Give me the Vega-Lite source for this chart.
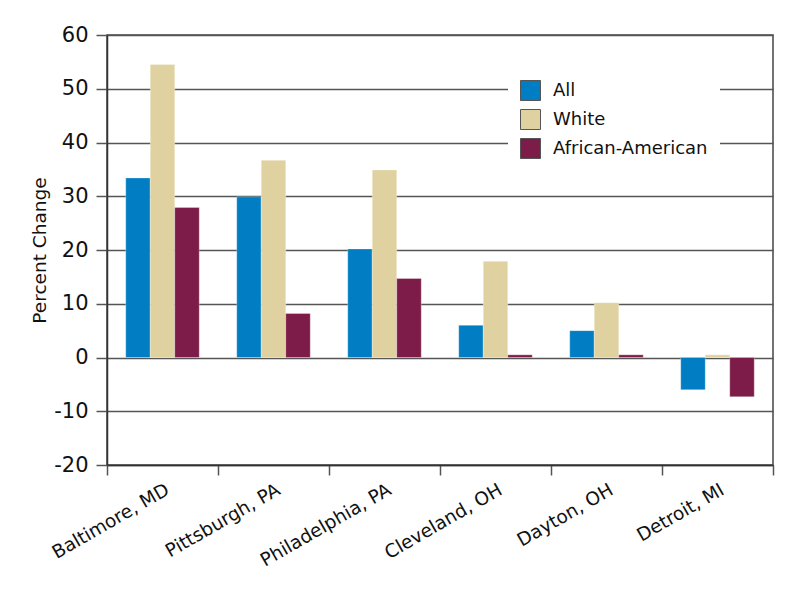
{
  "$schema": "https://vega.github.io/schema/vega-lite/v6.json",
  "autosize": "none",
  "width": 666,
  "height": 430,
  "padding": {"left": 107, "top": 35, "right": 31, "bottom": 127},
  "background": "white",
  "config": {
    "font": "DejaVu Sans",
    "view": {"stroke": "#444444", "strokeWidth": 1.5}
  },
  "data": {
    "values": [
      {"city": "Baltimore, MD", "group": "All", "value": 33.4},
      {"city": "Baltimore, MD", "group": "White", "value": 54.5},
      {"city": "Baltimore, MD", "group": "African-American", "value": 27.9},
      {"city": "Pittsburgh, PA", "group": "All", "value": 29.9},
      {"city": "Pittsburgh, PA", "group": "White", "value": 36.7},
      {"city": "Pittsburgh, PA", "group": "African-American", "value": 8.2},
      {"city": "Philadelphia, PA", "group": "All", "value": 20.2},
      {"city": "Philadelphia, PA", "group": "White", "value": 34.9},
      {"city": "Philadelphia, PA", "group": "African-American", "value": 14.7},
      {"city": "Cleveland, OH", "group": "All", "value": 6.0},
      {"city": "Cleveland, OH", "group": "White", "value": 17.9},
      {"city": "Cleveland, OH", "group": "African-American", "value": 0.5},
      {"city": "Dayton, OH", "group": "All", "value": 5.0},
      {"city": "Dayton, OH", "group": "White", "value": 10.2},
      {"city": "Dayton, OH", "group": "African-American", "value": 0.5},
      {"city": "Detroit, MI", "group": "All", "value": -6.0},
      {"city": "Detroit, MI", "group": "White", "value": 0.5},
      {"city": "Detroit, MI", "group": "African-American", "value": -7.3}
    ]
  },
  "mark": {"type": "bar", "stroke": "white", "strokeWidth": 0.5, "strokeOpacity": 0.6},
  "encoding": {
    "x": {
      "field": "city",
      "type": "nominal",
      "sort": null,
      "scale": {"paddingInner": 0, "paddingOuter": 0},
      "axis": {
        "title": null,
        "labelAngle": -30,
        "labelAlign": "right",
        "labelBaseline": "top",
        "labelFontSize": 18.5,
        "labelColor": "#111111",
        "labelPadding": 5,
        "tickBand": "extent",
        "tickSize": 10,
        "tickColor": "#555555",
        "tickWidth": 1.5,
        "domainColor": "#333333",
        "domainWidth": 1.5,
        "grid": false
      }
    },
    "xOffset": {
      "field": "group",
      "type": "nominal",
      "sort": ["All", "White", "African-American"],
      "scale": {"paddingInner": 0, "paddingOuter": 0.765}
    },
    "y": {
      "field": "value",
      "type": "quantitative",
      "scale": {"domain": [-20, 60], "nice": false},
      "axis": {
        "title": "Percent Change",
        "titleFontSize": 18.5,
        "titleFontWeight": "normal",
        "titleColor": "#111111",
        "titlePadding": 4,
        "values": [-20, -10, 0, 10, 20, 30, 40, 50, 60],
        "labelExpr": "'' + datum.value",
        "labelFontSize": 21,
        "labelColor": "#111111",
        "labelPadding": 8,
        "tickSize": 11,
        "tickColor": "#555555",
        "tickWidth": 1.5,
        "gridColor": "#555555",
        "gridWidth": 1.5,
        "gridOpacity": 1,
        "domainColor": "#333333",
        "domainWidth": 1.5
      }
    },
    "color": {
      "field": "group",
      "type": "nominal",
      "sort": ["All", "White", "African-American"],
      "scale": {"domain": ["All", "White", "African-American"], "range": ["#007dc3", "#e0d2a0", "#7d1c48"]},
      "legend": {
        "title": null,
        "orient": "none",
        "legendX": 401,
        "legendY": 33,
        "padding": 12,
        "fillColor": "white",
        "symbolType": "square",
        "symbolSize": 400,
        "symbolStrokeColor": "#555555",
        "symbolStrokeWidth": 1,
        "symbolOpacity": 1,
        "labelFontSize": 18,
        "labelColor": "#111111",
        "labelOffset": 12,
        "rowPadding": 4
      }
    }
  }
}
